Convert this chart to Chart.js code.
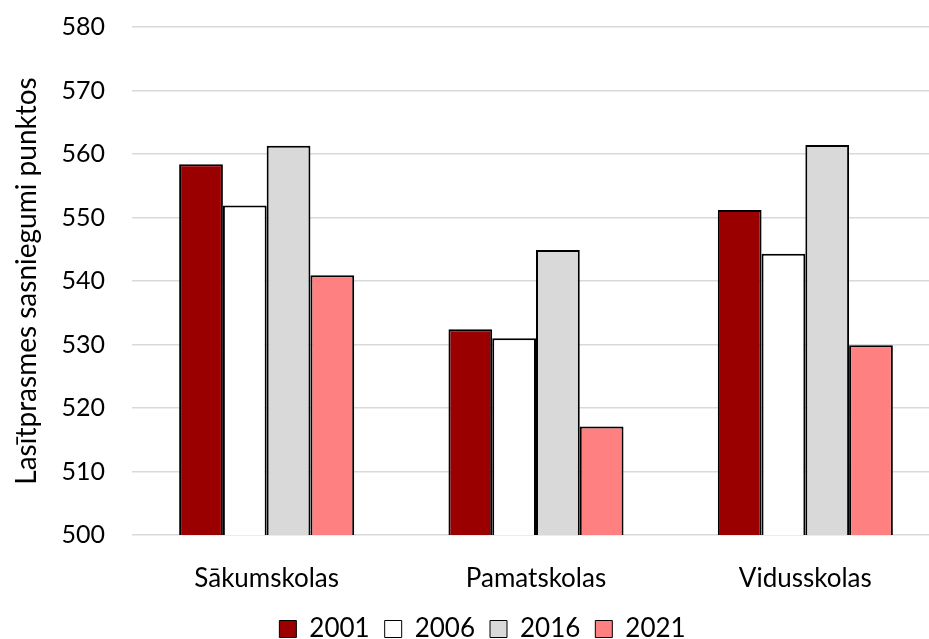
<!DOCTYPE html>
<html lang="lv">
<head>
    <meta charset="UTF-8">
    <title>Lasītprasmes sasniegumi</title>
    <script src="https://cdn.jsdelivr.net/npm/chart.js"></script>
    <style>
        html, body { margin: 0; padding: 0; background: #fff; overflow: hidden; }
        #wrap { width: 929px; height: 639px; overflow: hidden; position: relative; }
        canvas { position: absolute; left: 0; top: 0; }
    </style>
</head>
<body>
    <div id="wrap">
        <canvas id="chart" width="940" height="652"></canvas>
    </div>

    <script>
        // data
        var categories = ['Sākumskolas', 'Pamatskolas', 'Vidusskolas'];
        var years = ['2001', '2006', '2016', '2021'];
        var values2001 = [558.4, 532.4, 551.2];
        var values2006 = [551.9, 531.0, 544.3];
        var values2016 = [561.3, 544.9, 561.4];
        var values2021 = [540.9, 517.1, 529.9];
        var yTicks = [500, 510, 520, 530, 540, 550, 560, 570, 580];

        var colors = ['#9b0000', '#ffffff', '#d9d9d9', '#ff8080'];
        var series = [values2001, values2006, values2016, values2021];

        var datasets = years.map(function(y, i) {
            return {
                label: y,
                data: series[i],
                backgroundColor: colors[i],
                borderColor: '#000000',
                borderWidth: 2,
                borderSkipped: 'bottom',
                barPercentage: 1.0,
                categoryPercentage: 0.65
            };
        });

        var font = 'Lato, "Open Sans", sans-serif';

        var ctx = document.getElementById('chart').getContext('2d');
        var chart = new Chart(ctx, {
            type: 'bar',
            data: { labels: categories, datasets: datasets },
            options: {
                responsive: false,
                animation: false,
                layout: { padding: { left: 25, right: 0, top: 27, bottom: 0 } },
                plugins: {
                    tooltip: { enabled: false },
                    legend: {
                        position: 'bottom',
                        labels: {
                            color: '#000',
                            font: { family: font, size: 26 },
                            boxWidth: 17,
                            boxHeight: 17,
                            padding: 15,
                            generateLabels: function(c) {
                                return c.data.datasets.map(function(ds, i) {
                                    return {
                                        text: ds.label,
                                        fillStyle: ds.backgroundColor,
                                        strokeStyle: '#000',
                                        lineWidth: 1,
                                        datasetIndex: i
                                    };
                                });
                            }
                        }
                    }
                },
                scales: {
                    x: {
                        grid: { display: false, drawTicks: false },
                        border: { display: false },
                        afterFit: function(axis) {
                            axis.height = 66;
                            axis.paddingLeft = 0;
                            axis.paddingRight = 0;
                        },
                        ticks: {
                            color: '#000',
                            font: { family: font, size: 26 },
                            padding: 28
                        }
                    },
                    y: {
                        min: 500,
                        max: 580,
                        afterBuildTicks: function(axis) {
                            axis.ticks = yTicks.map(function(v) { return { value: v }; });
                        },
                        afterFit: function(axis) {
                            axis.width = 107;
                            axis.paddingTop = 0;
                            axis.paddingBottom = 0;
                        },
                        grid: { color: '#d9d9d9', lineWidth: 1.5, drawTicks: false },
                        border: { display: false },
                        ticks: {
                            color: '#000',
                            font: { family: font, size: 25 },
                            padding: 27
                        },
                        title: {
                            display: true,
                            text: 'Lasītprasmes sasniegumi punktos',
                            color: '#000',
                            font: { family: font, size: 28 },
                            padding: { top: -15, bottom: 0 }
                        }
                    }
                }
            }
        });
    </script>
</body>
</html>
